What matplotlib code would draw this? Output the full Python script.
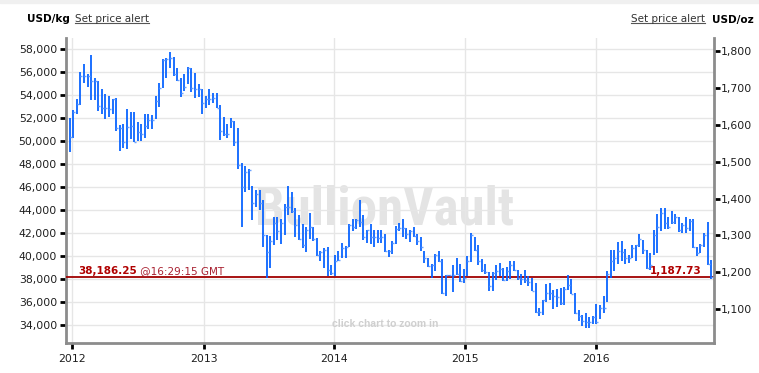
import matplotlib
matplotlib.use("Agg")
import matplotlib.pyplot as plt
import matplotlib.dates as mdates
from matplotlib.lines import Line2D
from matplotlib.patches import Rectangle
from matplotlib.path import Path
from matplotlib.ticker import FuncFormatter, FixedLocator
from matplotlib.transforms import IdentityTransform
import pandas as pd

OZ_PER_KG = 32.1507466

# gold, 10-day bars, USD/oz
highs = [
    1619, 1640, 1670, 1742, 1763, 1737, 1790, 1726, 1718, 1697,
    1682, 1678, 1670, 1673, 1599, 1601, 1643, 1634, 1634, 1608,
    1601, 1630, 1628, 1626, 1678, 1713, 1777, 1781, 1797, 1783,
    1754, 1726, 1736, 1755, 1753, 1739, 1710, 1697, 1678, 1697,
    1687, 1687, 1652, 1622, 1601, 1619, 1610, 1592, 1497, 1488,
    1480, 1433, 1424, 1424, 1395, 1302, 1299, 1349, 1349, 1345,
    1386, 1434, 1419, 1374, 1356, 1331, 1322, 1360, 1322, 1293,
    1259, 1266, 1269, 1221, 1248, 1259, 1279, 1272, 1332, 1345,
    1344, 1395, 1356, 1315, 1331, 1315, 1315, 1314, 1305, 1261,
    1284, 1326, 1335, 1344, 1320, 1315, 1323, 1304, 1296, 1259,
    1240, 1222, 1249, 1257, 1236, 1194, 1194, 1221, 1239, 1222,
    1210, 1245, 1306, 1297, 1275, 1237, 1222, 1201, 1201, 1221,
    1225, 1212, 1214, 1230, 1232, 1207, 1195, 1207, 1189, 1185,
    1171, 1103, 1126, 1168, 1171, 1153, 1155, 1158, 1160, 1192,
    1183, 1144, 1099, 1085, 1090, 1079, 1083, 1114, 1111, 1137,
    1203, 1261, 1261, 1281, 1284, 1263, 1248, 1273, 1273, 1305,
    1288, 1261, 1252, 1314, 1358, 1374, 1374, 1349, 1365, 1359,
    1351, 1333, 1351, 1345, 1344, 1270, 1277, 1308, 1336, 1234,
]
lows = [
    1525, 1565, 1628, 1652, 1714, 1703, 1668, 1667, 1638, 1629,
    1615, 1622, 1628, 1582, 1530, 1536, 1535, 1562, 1553, 1556,
    1557, 1565, 1588, 1589, 1616, 1649, 1699, 1727, 1754, 1733,
    1719, 1676, 1690, 1709, 1688, 1673, 1675, 1629, 1646, 1653,
    1658, 1645, 1559, 1569, 1565, 1592, 1543, 1480, 1324, 1419,
    1424, 1341, 1376, 1368, 1270, 1185, 1212, 1273, 1287, 1277,
    1300, 1356, 1360, 1296, 1287, 1266, 1254, 1291, 1284, 1245,
    1230, 1213, 1189, 1194, 1189, 1230, 1240, 1240, 1269, 1311,
    1318, 1323, 1288, 1279, 1277, 1270, 1279, 1279, 1255, 1243,
    1250, 1277, 1311, 1296, 1290, 1281, 1296, 1273, 1259, 1225,
    1214, 1185, 1205, 1227, 1142, 1137, 1190, 1147, 1194, 1174,
    1171, 1189, 1227, 1257, 1221, 1201, 1195, 1149, 1149, 1180,
    1189, 1178, 1176, 1182, 1203, 1180, 1167, 1171, 1162, 1149,
    1090, 1081, 1084, 1121, 1126, 1101, 1105, 1111, 1112, 1153,
    1141, 1087, 1069, 1054, 1049, 1049, 1060, 1060, 1074, 1089,
    1119, 1185, 1203, 1222, 1230, 1223, 1225, 1239, 1232, 1270,
    1250, 1209, 1207, 1246, 1252, 1311, 1318, 1317, 1332, 1332,
    1309, 1306, 1306, 1311, 1266, 1245, 1252, 1270, 1219, 1183,
]
closes = [
    1566, 1635, 1655, 1733, 1733, 1733, 1719, 1719, 1651, 1644,
    1644, 1643, 1669, 1590, 1592, 1553, 1595, 1596, 1554, 1580,
    1574, 1597, 1613, 1613, 1665, 1700, 1774, 1777, 1781, 1736,
    1721, 1685, 1703, 1753, 1699, 1696, 1697, 1658, 1670, 1669,
    1671, 1645, 1584, 1576, 1574, 1610, 1554, 1491, 1431, 1473,
    1478, 1387, 1412, 1387, 1302, 1255, 1284, 1333, 1311, 1333,
    1377, 1377, 1365, 1329, 1291, 1275, 1315, 1323, 1291, 1248,
    1255, 1261, 1207, 1198, 1230, 1234, 1266, 1270, 1329, 1322,
    1342, 1336, 1297, 1314, 1297, 1295, 1293, 1295, 1259, 1257,
    1279, 1317, 1320, 1320, 1304, 1311, 1299, 1286, 1269, 1240,
    1218, 1221, 1246, 1230, 1144, 1192, 1192, 1192, 1195, 1176,
    1186, 1232, 1302, 1261, 1230, 1207, 1201, 1162, 1198, 1204,
    1209, 1180, 1203, 1221, 1207, 1185, 1182, 1180, 1174, 1149,
    1094, 1093, 1124, 1144, 1144, 1135, 1133, 1117, 1156, 1167,
    1142, 1090, 1081, 1069, 1067, 1067, 1078, 1065, 1103, 1103,
    1196, 1232, 1240, 1257, 1255, 1240, 1240, 1266, 1273, 1291,
    1261, 1212, 1221, 1300, 1324, 1360, 1335, 1322, 1336, 1350,
    1315, 1329, 1320, 1340, 1268, 1252, 1275, 1302, 1222, 1188,
]
dates = pd.date_range("2011-12-24", periods=len(highs), freq="10D")

spot_oz = 1187.73
spot_kg = 38186.25
spot_time = "@16:29:15 GMT"

kg_ticks = list(range(34000, 58001, 2000))
oz_ticks = list(range(1100, 1801, 100))
kg_range = (32407, 59013)

BAR_BLUE = "#0a64ff"
TICK_BLUE = "#6aa2ff"
SPOT_RED = "#b00000"
SPINE_GREY = "#8c8c8c"
GRID_GREY = "#e6e6e6"
TEXT = "#1e1e1e"

W, H = 759, 373
fig = plt.figure(figsize=(W / 100, H / 100), dpi=100, facecolor="white")
fig.patches.append(Rectangle((0, 1 - 3 / H), 1, 3 / H, transform=fig.transFigure,
                             color="#f0f0f0", zorder=0))

ax = fig.add_axes([66 / W, 1 - 343.3 / H, (714 - 66) / W, (343.3 - 37.7) / H])
ax.set_xlim(pd.Timestamp("2011-12-14"), pd.Timestamp("2016-11-25"))
ax.set_ylim(*kg_range)
ax.yaxis.set_major_locator(FixedLocator(kg_ticks))
ax.yaxis.set_major_formatter(FuncFormatter(lambda v, p: f"{v:,.0f}"))
ax.xaxis.set_major_locator(mdates.YearLocator())
ax.xaxis.set_major_formatter(mdates.DateFormatter("%Y"))
ax.set_axisbelow(True)
ax.grid(True, color=GRID_GREY, linewidth=1)

ax2 = ax.twinx()
ax2.set_ylim(kg_range[0] / OZ_PER_KG, kg_range[1] / OZ_PER_KG)
ax2.yaxis.set_major_locator(FixedLocator(oz_ticks))
ax2.yaxis.set_major_formatter(FuncFormatter(lambda v, p: f"{v:,.0f}"))

for a in (ax, ax2):
    for side in ("top", "left", "right", "bottom"):
        a.spines[side].set_visible(False)
ax.spines["left"].set_visible(True)
ax.spines["bottom"].set_visible(True)
ax2.spines["right"].set_visible(True)
for sp in (ax.spines["left"], ax.spines["bottom"], ax2.spines["right"]):
    sp.set_color(SPINE_GREY)
    sp.set_linewidth(2)

ax.tick_params(axis="y", length=4, width=2, color="black", labelsize=7.8,
               labelcolor=TEXT, pad=2.5)
ax.tick_params(axis="x", length=4, width=2, color="black", labelsize=7.8,
               labelcolor=TEXT, pad=3.5)
ax2.tick_params(axis="y", length=4, width=2, color="black", labelsize=7.8,
                labelcolor=TEXT, pad=1.2)

# watermark + hint
ax.text(0.492, 0.436, "BullionVault", transform=ax.transAxes, ha="center",
        va="center", fontsize=38, fontweight="bold", color="#e4e4e4",
        family=["Roboto Condensed", "Liberation Sans"], zorder=0.2)
ax.text(0.492, 0.063, "click chart to zoom in", transform=ax.transAxes,
        ha="center", va="center", fontsize=7.5, fontweight="bold",
        color="#cfcfcf", family=["Liberation Sans", "DejaVu Sans"])

# high-low bars with close ticks
close_tick = Path([[0, 0], [1, 0]], [Path.MOVETO, Path.LINETO])
ax2.vlines(dates, lows, highs, colors=BAR_BLUE, linewidth=1.3, zorder=3)
ax2.plot(dates, closes, linestyle="none", marker=close_tick, markersize=3.5,
         markeredgewidth=1, color=TICK_BLUE, zorder=4)

# spot price line
ax2.axhline(spot_oz, color="#a00000", linewidth=1.3, zorder=2)
t_kg = ax2.annotate(f"{spot_kg:,.2f}", xy=(0.0185, spot_oz),
                    xycoords=ax2.get_yaxis_transform(), xytext=(0, 2),
                    textcoords="offset points", ha="left", va="baseline",
                    fontsize=7.5, fontweight="bold", color=SPOT_RED)
ax2.annotate(" " + spot_time, xy=(1, 0), xycoords=t_kg, ha="left",
             va="bottom", fontsize=7.5, color="#a82030")
ax2.annotate(f"{spot_oz:,.2f}", xy=(0.981, spot_oz),
             xycoords=ax2.get_yaxis_transform(), xytext=(0, 2),
             textcoords="offset points", ha="right", va="baseline",
             fontsize=7.5, fontweight="bold", color=SPOT_RED)

# header
head_y = 1 - 19.5 / H
fig.text(27 / W, head_y, "USD/kg", ha="left", va="center", fontsize=7.5,
         fontweight="bold", color="black")
alert_l = fig.text(75 / W, head_y, "Set price alert", ha="left", va="center",
                   fontsize=7.5, color="#333333")
alert_r = fig.text(705 / W, head_y, "Set price alert", ha="right", va="center",
                   fontsize=7.5, color="#333333")
fig.text(712 / W, head_y, "USD/oz", ha="left", va="center", fontsize=7.5,
         fontweight="bold", color="black")

fig.canvas.draw()
for t in (alert_l, alert_r):
    bb = t.get_window_extent()
    y = bb.y0 + 1.5
    fig.add_artist(Line2D([bb.x0, bb.x1], [y, y], transform=IdentityTransform(),
                          color="#555555", linewidth=0.8))

plt.savefig("out.png", dpi=100)
plt.close()
